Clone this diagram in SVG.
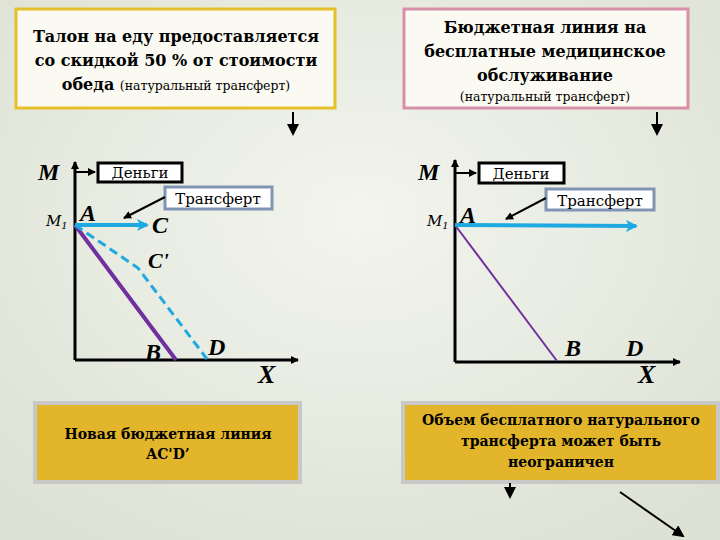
<svg xmlns="http://www.w3.org/2000/svg" width="720" height="540" viewBox="0 0 720 540">
<defs>
<radialGradient id="bg" cx="50%" cy="40%" r="70%"><stop offset="0" stop-color="#f3f5ee"/><stop offset="1" stop-color="#dde2d4"/></radialGradient>
<marker id="ab" markerWidth="8" markerHeight="8" refX="7" refY="4" orient="auto" markerUnits="userSpaceOnUse"><path d="M0,0 L8,4 L0,8 Z" fill="#000"/></marker>
<marker id="abl" markerWidth="12" markerHeight="12" refX="10" refY="6" orient="auto" markerUnits="userSpaceOnUse"><path d="M0,0 L12,6 L0,12 L3,6 Z" fill="#1fa9e1"/></marker>
<marker id="abig" markerWidth="12" markerHeight="12" refX="10" refY="6" orient="auto" markerUnits="userSpaceOnUse"><path d="M0,0 L12,6 L0,12 Z" fill="#000"/></marker>
</defs>
<style>
text{font-family:"DejaVu Serif",serif;fill:#000}
.b{font-weight:bold}
.it{font-family:"Liberation Serif",serif;font-style:italic;font-weight:bold}
.ax{stroke:#000;stroke-width:3;fill:none}
.lbl{fill:#fff;stroke:#000;stroke-width:3}
.lbl2{fill:#fff;stroke:#8094b4;stroke-width:3}
</style>
<rect width="720" height="540" fill="url(#bg)"/>
<g id="topLeft"><rect x="16" y="9" width="319" height="99" fill="#fafaf2" stroke="#e6c02a" stroke-width="3"/>
<text class="b" font-size="16" text-anchor="middle"><tspan x="176" y="42">Талон на еду предоставляется</tspan><tspan x="176" y="66">со скидкой 50 % от стоимости</tspan><tspan x="176" y="90">обеда <tspan font-weight="normal" font-size="12.5">(натуральный трансферт)</tspan></tspan></text></g>
<g id="topRight"><rect x="404" y="9" width="284" height="99" fill="#fafaf2" stroke="#d890a8" stroke-width="3"/>
<text class="b" font-size="16" text-anchor="middle"><tspan x="545" y="33">Бюджетная линия на</tspan><tspan x="545" y="57">бесплатные медицинское</tspan><tspan x="545" y="81">обслуживание</tspan></text>
<text font-size="12.5" x="545" y="101" text-anchor="middle">(натуральный трансферт)</text></g>
<g id="botLeft"><rect x="35" y="403" width="265" height="79" fill="#e2b52a" stroke="#c8c8c8" stroke-width="4"/>
<text class="b" font-size="14" text-anchor="middle"><tspan x="168" y="439">Новая бюджетная линия</tspan><tspan x="168" y="459">AC'D’</tspan></text></g>
<g id="botRight"><rect x="403" y="403" width="315" height="79" fill="#e2b52a" stroke="#c8c8c8" stroke-width="4"/>
<text class="b" font-size="14" text-anchor="middle"><tspan x="561" y="425">Объем бесплатного натурального</tspan><tspan x="561" y="446">трансферта может быть</tspan><tspan x="561" y="467">неограничен</tspan></text></g>
<g id="chartLeft">
<path class="ax" d="M75,360 V162" marker-end="url(#ab)"/><path class="ax" d="M75,360 H298" marker-end="url(#ab)"/>
<path d="M75,225 L176,360" stroke="#7030a0" stroke-width="4"/>
<path d="M75,225 L138,268 L207,359" stroke="#1fa9e1" stroke-width="3" stroke-dasharray="9,5" fill="none"/>
<path d="M75,225 L147,225" stroke="#1fa9e1" stroke-width="4" marker-end="url(#abl)"/>
<text class="it" font-size="24" x="38" y="180">M</text>
<text font-family="Liberation Serif" font-style="italic" font-size="15" x="46" y="226">M<tspan font-size="10" dy="3">1</tspan></text>
<text class="it" font-size="24" x="80" y="221">A</text>
<text class="it" font-size="24" x="152" y="233">C</text>
<text class="it" font-size="22" x="148" y="268">C'</text>
<text class="it" font-size="24" x="145" y="360">B</text>
<text class="it" font-size="24" x="208" y="355">D</text>
<text class="it" font-size="26" x="258" y="383">X</text>
<path d="M75,172 H95" stroke="#000" stroke-width="2" marker-end="url(#ab)"/>
<rect class="lbl" x="98" y="163" width="84" height="19"/><text font-size="15" x="140" y="178" text-anchor="middle">Деньги</text>
<rect class="lbl2" x="165" y="187" width="107" height="22"/><text font-size="15" x="218" y="204" text-anchor="middle">Трансферт</text>
<path d="M165,197 L124,218" stroke="#000" stroke-width="2" marker-end="url(#ab)"/>
</g>
<g id="chartRight">
<path class="ax" d="M455,362 V160" marker-end="url(#ab)"/><path class="ax" d="M455,362 H680" marker-end="url(#ab)"/>
<path d="M455,225 L557,361" stroke="#7030a0" stroke-width="2"/>
<path d="M455,225 L636,226" stroke="#1fa9e1" stroke-width="4" marker-end="url(#abl)"/>
<text class="it" font-size="24" x="418" y="180">M</text>
<text font-family="Liberation Serif" font-style="italic" font-size="15" x="427" y="226">M<tspan font-size="10" dy="3">1</tspan></text>
<text class="it" font-size="24" x="460" y="223">A</text>
<text class="it" font-size="24" x="565" y="356">B</text>
<text class="it" font-size="24" x="626" y="356">D</text>
<text class="it" font-size="26" x="638" y="383">X</text>
<path d="M455,173 H476" stroke="#000" stroke-width="2" marker-end="url(#ab)"/>
<rect class="lbl" x="479" y="163" width="85" height="20"/><text font-size="15" x="521" y="179" text-anchor="middle">Деньги</text>
<rect class="lbl2" x="546" y="189" width="108" height="21"/><text font-size="15" x="600" y="206" text-anchor="middle">Трансферт</text>
<path d="M546,198 L506,219" stroke="#000" stroke-width="2" marker-end="url(#ab)"/>
</g>
<g id="connectors" stroke="#000" stroke-width="2">
<path d="M293,112 V134" marker-end="url(#abig)"/>
<path d="M657,112 V134" marker-end="url(#abig)"/>
<path d="M510,483 V497" marker-end="url(#abig)"/>
<path d="M620,492 L683,536" marker-end="url(#abig)"/>
</g>
</svg>
